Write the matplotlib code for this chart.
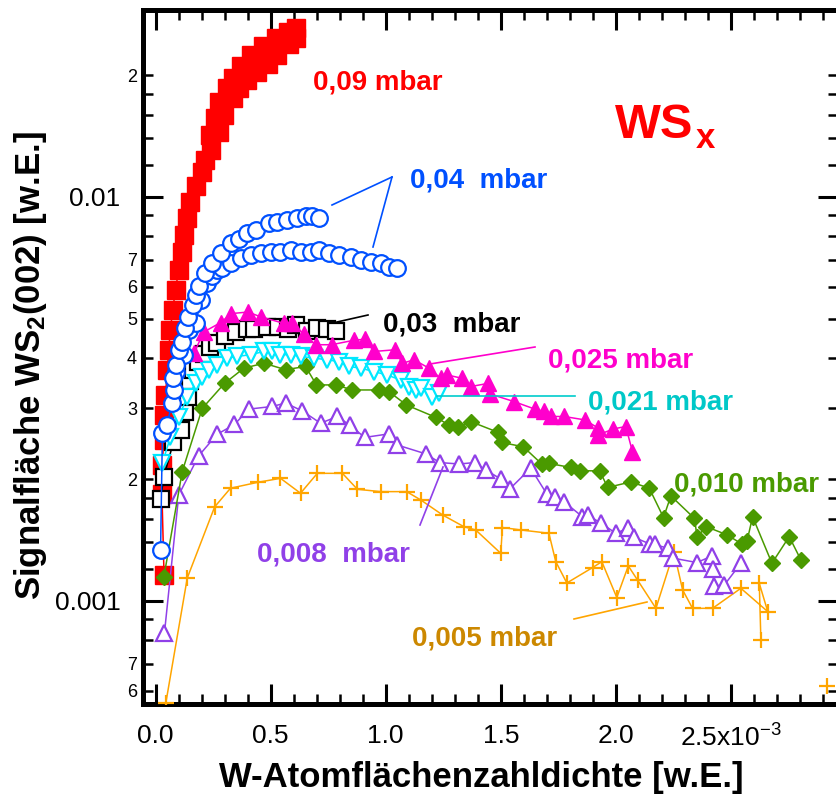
import matplotlib
matplotlib.use('Agg')
import matplotlib.pyplot as plt
from matplotlib.lines import Line2D
from matplotlib.ticker import FixedLocator, FixedFormatter

plt.rcParams['font.family'] = ['Liberation Sans', 'DejaVu Sans']
plt.rcParams['mathtext.fontset'] = 'custom'
plt.rcParams['mathtext.rm'] = 'Liberation Sans'
plt.rcParams['mathtext.bf'] = 'Liberation Sans:bold'
plt.rcParams['mathtext.it'] = 'Liberation Sans:italic'

# ---------------- data (x in 1e-3 units, y in 1e-3 units) ----------------
XS = 1e-3
YS = 1e-3

red_x = [0.037, 0.028, 0.030, 0.035, 0.039, 0.043, 0.052, 0.057, 0.065, 0.074, 0.087, 0.100,
         0.113, 0.122, 0.135, 0.152,
         0.174, 0.204, 0.213, 0.239, 0.235, 0.274, 0.257, 0.296, 0.278, 0.335, 0.309, 0.361,
         0.335, 0.396, 0.370, 0.443, 0.413, 0.487, 0.465, 0.526, 0.522, 0.578, 0.574, 0.609,
         0.609]
red_y = [1.160, 1.840, 2.172, 2.502, 2.889, 3.234, 3.737, 4.185, 4.68, 5.24, 5.88, 6.59,
         7.30, 8.05, 8.86, 9.72,
         10.64, 11.53, 12.36, 13.08, 14.23, 14.48, 15.68, 15.95, 17.17, 17.56, 18.60, 18.60,
         19.70, 19.47, 21.08, 20.37, 22.45, 21.33, 23.63, 22.45, 24.73, 23.90, 25.60, 24.73,
         26.20]

blue_a_x = [0.022, 0.030, 0.048, 0.073, 0.080, 0.078, 0.091, 0.100, 0.116, 0.130, 0.143, 0.161,
            0.178, 0.191, 0.217, 0.247, 0.283, 0.326, 0.362, 0.399, 0.435, 0.493, 0.529, 0.573,
            0.616, 0.652, 0.681, 0.710]
blue_a_y = [1.337, 2.605, 2.727, 3.090, 3.329, 3.564, 3.84, 4.185, 4.38, 4.73, 5.04, 5.40,
            5.72, 6.02, 6.48, 6.85, 7.25, 7.68, 7.89, 8.13, 8.30, 8.60, 8.69, 8.77,
            8.87, 8.96, 8.96, 8.87]

blue_b_x = [0.091, 0.122, 0.145, 0.174, 0.196, 0.225, 0.247, 0.268, 0.290, 0.326, 0.370, 0.413,
            0.457, 0.500, 0.543, 0.587, 0.630, 0.674, 0.710, 0.753, 0.797, 0.848, 0.891, 0.935,
            0.978, 1.014, 1.051]
blue_b_y = [3.689, 4.07, 4.68, 4.87, 5.56, 6.12, 6.36, 6.59, 6.66, 6.85, 7.05, 7.18,
            7.25, 7.32, 7.32, 7.39, 7.32, 7.32, 7.39, 7.25, 7.18, 7.11, 6.98, 6.92,
            6.85, 6.72, 6.66]

black_x = [0.022, 0.036, 0.078, 0.109, 0.126, 0.139, 0.148, 0.161, 0.183, 0.209, 0.235, 0.265,
           0.304, 0.348, 0.396, 0.430, 0.486, 0.530, 0.574, 0.609, 0.659, 0.700, 0.743, 0.783]
black_y = [1.784, 2.030, 2.474, 2.65, 2.94, 3.198, 3.502, 3.737, 3.907, 4.093, 4.26, 4.35,
           4.53, 4.63, 4.70, 4.72, 4.77, 4.77, 4.72, 4.81, 4.67, 4.73, 4.72, 4.67]

cyan_x = [0.030, 0.065, 0.101, 0.138, 0.174, 0.203, 0.232, 0.268, 0.312, 0.355, 0.413, 0.471,
          0.507, 0.543, 0.587, 0.630, 0.688, 0.747, 0.797, 0.840, 0.891, 0.949, 1.007, 1.065,
          1.101, 1.130, 1.152, 1.203, 1.232]
cyan_y = [2.195, 2.548, 2.855, 3.198, 3.457, 3.590, 3.737, 3.840, 3.992, 4.030, 4.070, 4.146,
          4.146, 4.070, 4.070, 4.030, 3.992, 3.953, 3.914, 3.806, 3.770, 3.696, 3.625, 3.522,
          3.395, 3.329, 3.362, 3.203, 3.265]

magenta_x = [0.167, 0.210, 0.283, 0.330, 0.402, 0.457, 0.558, 0.591, 0.645, 0.696, 0.765, 0.862,
             0.909, 0.949, 1.039, 1.073, 1.123, 1.188, 1.239, 1.268, 1.333, 1.370, 1.446, 1.452,
             1.558, 1.648, 1.688, 1.717, 1.775, 1.865, 1.924, 1.924, 1.989, 2.043, 2.072]
magenta_y = [4.108, 4.633, 4.888, 5.145, 5.191, 5.05, 4.866, 4.888, 4.574, 4.308, 4.308, 4.42,
             4.445, 4.146, 4.185, 3.877, 3.953, 3.770, 3.557, 3.625, 3.557, 3.395, 3.457, 3.256,
             3.115, 2.985, 2.945, 2.862, 2.862, 2.807, 2.677, 2.577, 2.666, 2.703, 2.343]

green_x = [0.036, 0.116, 0.203, 0.300, 0.384, 0.471, 0.565, 0.652, 0.699, 0.783, 0.855, 0.971,
           1.014, 1.090, 1.217, 1.275, 1.312, 1.370, 1.489, 1.504, 1.598, 1.678, 1.710, 1.804,
           1.843, 1.930, 1.964, 2.065, 2.145, 2.207, 2.239, 2.341, 2.353, 2.393, 2.484, 2.547,
           2.570, 2.594, 2.678, 2.753, 2.804]
green_y = [1.144, 2.090, 2.997, 3.457, 3.770, 3.877, 3.737, 3.806, 3.426, 3.426, 3.329, 3.329,
           3.299, 3.056, 2.849, 2.727, 2.689, 2.779, 2.614, 2.468, 2.408, 2.183, 2.190, 2.140,
           2.100, 2.100, 1.910, 1.971, 1.902, 1.609, 1.820, 1.602, 1.443, 1.527, 1.457, 1.384,
           1.408, 1.616, 1.240, 1.443, 1.263]

purple_x = [0.039, 0.101, 0.187, 0.267, 0.343, 0.406, 0.507, 0.565, 0.638, 0.717, 0.790, 0.843,
            0.909, 1.014, 1.051, 1.174, 1.235, 1.319, 1.387, 1.435, 1.500, 1.539, 1.630, 1.700,
            1.735, 1.775, 1.855, 1.877, 1.935, 2.000, 2.051, 2.080, 2.148, 2.170, 2.225, 2.250,
            2.352, 2.417, 2.420, 2.427, 2.471, 2.543]
purple_y = [0.835, 1.830, 2.285, 2.584, 2.735, 2.985, 3.030, 3.090, 2.953, 2.754, 2.862, 2.727,
            2.540, 2.592, 2.432, 2.313, 2.201, 2.183, 2.201, 2.111, 2.003, 1.894, 2.131, 1.840,
            1.808, 1.760, 1.616, 1.633, 1.558, 1.471, 1.514, 1.436, 1.384, 1.380, 1.350, 1.276,
            1.245, 1.292, 1.200, 1.089, 1.095, 1.240]

orange_x = [0.045, 0.138, 0.257, 0.326, 0.445, 0.543, 0.630, 0.703, 0.812, 0.877, 0.978, 1.091,
            1.152, 1.247, 1.340, 1.391, 1.500, 1.507, 1.587, 1.709, 1.739, 1.787, 1.899, 1.939,
            2.004, 2.054, 2.094, 2.174, 2.252, 2.290, 2.333, 2.420, 2.543, 2.660, 2.623, 2.630]
orange_y = [0.56, 1.14, 1.71, 1.902, 1.967, 2.012, 1.848, 2.070, 2.070, 1.890, 1.865, 1.865,
            1.779, 1.633, 1.527, 1.499, 1.312, 1.520, 1.499, 1.471, 1.251, 1.108, 1.210, 1.251,
            1.020, 1.221, 1.127, 0.959, 1.324, 1.065, 0.959, 0.959, 1.075, 0.941, 1.106, 0.801]
orange_extra_x = [2.917]
orange_extra_y = [0.616]

x_major = [0.0, 0.5, 1.0, 1.5, 2.0, 2.5]
x_major_labels = ['0.0', '0.5', '1.0', '1.5', '2.0', '2.5x10$^{\\mathrm{-3}}$']
x_minor = [i / 10 for i in range(0, 30)]
y_major = [0.001, 0.01]
y_major_labels = ['0.001', '0.01']
y_minor = [0.0006, 0.0007, 0.0008, 0.0009, 0.0012, 0.0014, 0.0016, 0.0018,
           0.002, 0.003, 0.004, 0.005, 0.006, 0.007, 0.008, 0.009,
           0.012, 0.014, 0.016, 0.018, 0.02]
y_minor_labels = ['6', '7', '', '', '', '', '', '',
                  '2', '3', '4', '5', '6', '7', '', '',
                  '', '', '', '', '2']

# ---------------- figure ----------------
W, H = 836, 796
fig = plt.figure(figsize=(W / 100, H / 100), dpi=100)
ax = fig.add_axes([142.5 / W, 1 - 703.5 / H, (838 - 142.5) / W, (703.5 - 9.5) / H])
ax.set_yscale('log')


def series(x, y, color, marker, mfc, ms, mew, lw=1.1, z=2, ls='-'):
    ax.plot([v * XS for v in x], [v * YS for v in y], color=color, lw=lw, ls=ls,
            marker=marker, ms=ms, mfc=mfc, mec=color, mew=mew, zorder=z)


RED = '#ff0000'
BLUE = '#0050ff'
MAG = '#ff00cc'
CYAN = '#00e8ff'
GREEN = '#4a9a00'
PURPLE = '#9040e8'
ORANGE = '#ffa500'

series(red_x, red_y, RED, 's', RED, 12.5, 1.0, z=2)
series(orange_x, orange_y, ORANGE, '+', ORANGE, 11, 1.6, z=3)
ax.plot([v * XS for v in orange_extra_x], [v * YS for v in orange_extra_y], ls='none',
        marker='+', ms=11, mew=1.6, color=ORANGE, zorder=3)
series(purple_x, purple_y, PURPLE, '^', 'white', 12, 1.6, z=4)
series(green_x, green_y, GREEN, 'D', GREEN, 8.5, 1.0, z=5)
series(black_x, black_y, 'black', 's', 'white', 11.5, 1.6, z=6)
series(cyan_x, cyan_y, CYAN, 'v', 'white', 12, 1.6, z=7)
series(magenta_x, magenta_y, MAG, '^', MAG, 12, 1.0, z=8)
series(blue_b_x, blue_b_y, BLUE, 'o', 'white', 12, 1.6, z=9)
series(blue_a_x, blue_a_y, BLUE, 'o', 'white', 12, 1.6, z=10)

ax.set_xlim(-0.0565 * XS, 2.965 * XS)
ax.set_ylim(5.575e-4, 2.911e-2)

ax.xaxis.set_major_locator(FixedLocator([v * XS for v in x_major]))
ax.xaxis.set_major_formatter(FixedFormatter(x_major_labels))
ax.xaxis.set_minor_locator(FixedLocator([v * XS for v in x_minor]))
ax.xaxis.set_minor_formatter(FixedFormatter([''] * len(x_minor)))
ax.yaxis.set_major_locator(FixedLocator(y_major))
ax.yaxis.set_major_formatter(FixedFormatter(y_major_labels))
ax.yaxis.set_minor_locator(FixedLocator(y_minor))
ax.yaxis.set_minor_formatter(FixedFormatter(y_minor_labels))

ax.tick_params(which='both', direction='in', top=True, right=True, colors='black')
ax.tick_params(which='major', length=14.4, width=2.2, labelsize=19)
ax.tick_params(which='minor', length=7.2, width=1.8, labelsize=13)
ax.tick_params(axis='y', which='major', pad=16)
ax.tick_params(axis='y', which='minor', pad=4)
ax.tick_params(axis='x', which='major', pad=15)
for s in ax.spines.values():
    s.set_linewidth(3.6)

# axis labels
fig.text(481 / W, 1 - 778 / H, 'W-Atomflächenzahldichte [w.E.]', ha='center', va='center',
         fontsize=25, fontweight='bold')
fig.text(31 / W, 1 - 366 / H, 'Signalfläche WS$_\\mathbf{2}$(002) [w.E.]', ha='center',
         va='center', rotation=90, fontsize=25, fontweight='bold')


def label(px, py_base, s, color):
    fig.text(px / W, 1 - py_base / H, s, ha='left', va='baseline', fontsize=20,
             fontweight='bold', color=color)


label(313, 90, '0,09 mbar', RED)
label(410, 188, '0,04  mbar', BLUE)
label(383, 332, '0,03  mbar', 'black')
label(548, 367, '0,025 mbar', MAG)
label(588, 410, '0,021 mbar', '#00c8c8')
label(674, 492, '0,010 mbar', GREEN)
label(257, 562, '0,008  mbar', PURPLE)
label(412, 646, '0,005 mbar', '#cc8800')

fig.text(615 / W, 1 - 138 / H, 'WS', ha='left', va='baseline', fontsize=35,
         fontweight='bold', color=RED)
fig.text(696 / W, 1 - 148 / H, 'x', ha='left', va='baseline', fontsize=25,
         fontweight='bold', color=RED)


def leader(p1, p2, color):
    fig.add_artist(Line2D([p1[0] / W, p2[0] / W], [1 - p1[1] / H, 1 - p2[1] / H],
                          transform=fig.transFigure, color=color, lw=1.2))


leader((332, 205), (392, 177), BLUE)
leader((392, 177), (373, 247), BLUE)
leader((337, 322), (368, 315), 'black')
leader((430, 364), (535, 347), MAG)
leader((437, 396), (575, 396), '#00cccc')
leader((420, 525), (443, 467), PURPLE)
leader((574, 619), (647, 602), ORANGE)

fig.savefig('out.png', dpi=100)
